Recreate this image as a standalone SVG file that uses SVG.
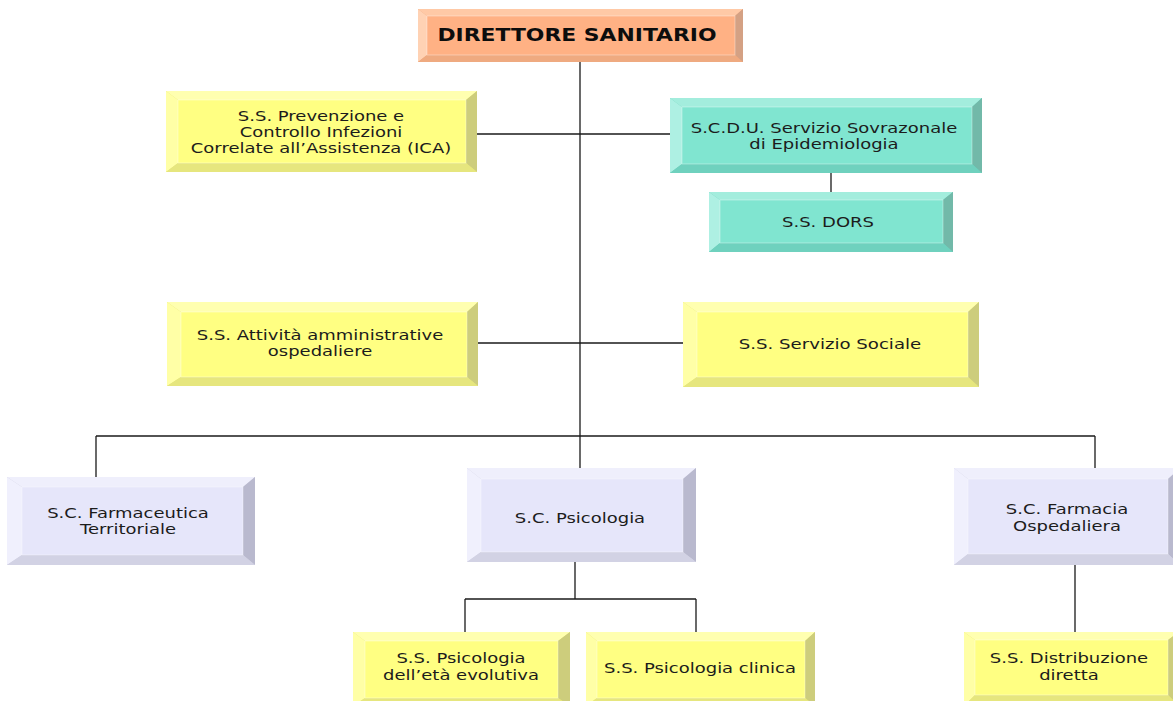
<svg xmlns="http://www.w3.org/2000/svg" width="1173" height="701" viewBox="0 0 1173 701">
<style>
.bg{fill:#ffffff}
.conn line{stroke:#1a1a1a;stroke-width:1.3}
.yel .o{fill:#E3E37A}.yel .t{fill:#FFFFB0}.yel .l{fill:#FFFFA6}.yel .r{fill:#CDCD7C}.yel .b{fill:#E6E67E}.yel .f{fill:#FFFF82}
.sal .o{fill:#E9A37A}.sal .t{fill:#FFC9A6}.sal .l{fill:#FFD2B4}.sal .r{fill:#D4A184}.sal .b{fill:#EFAA80}.sal .f{fill:#FFB184}
.tea .o{fill:#6CCDB9}.tea .t{fill:#A3EDDD}.tea .l{fill:#AEF0E3}.tea .r{fill:#72B9A9}.tea .b{fill:#6FD1BE}.tea .f{fill:#80E5D0}
.lav .o{fill:#D0D0E2}.lav .t{fill:#EFEFFC}.lav .l{fill:#F0F0FD}.lav .r{fill:#B9B9CE}.lav .b{fill:#D2D2E4}.lav .f{fill:#E6E6FA}
.f{stroke:#ffffff;stroke-opacity:0.35;stroke-width:1}
text{font-family:"DejaVu Sans","Liberation Sans",sans-serif;font-size:14.5px;fill:#1c1c1c;text-anchor:middle}
text.bold{font-weight:bold;font-size:17.5px;fill:#0d0d0d}
</style>
<rect class="bg" x="0" y="0" width="1173" height="701"/>

<g id="connectors" class="conn">
<line x1="580" y1="62" x2="580" y2="468"/>
<line x1="477" y1="134" x2="670" y2="134"/>
<line x1="831" y1="173" x2="831" y2="192"/>
<line x1="478" y1="343" x2="683" y2="343"/>
<line x1="96" y1="436" x2="1095" y2="436"/>
<line x1="96" y1="436" x2="96" y2="477"/>
<line x1="1095" y1="436" x2="1095" y2="468"/>
<line x1="575" y1="562" x2="575" y2="599"/>
<line x1="465" y1="599" x2="696" y2="599"/>
<line x1="465" y1="599" x2="465" y2="632"/>
<line x1="696" y1="599" x2="696" y2="632"/>
<line x1="1075" y1="565" x2="1075" y2="632"/>
</g>

<g id="direttore" class="sal">
<rect class="o" x="418" y="9" width="325" height="53"/>
<polygon class="t" points="418,9 743,9 735,16 427,16"/>
<polygon class="l" points="418,9 427,16 427,55 418,62"/>
<polygon class="r" points="743,9 743,62 735,55 735,16"/>
<polygon class="b" points="418,62 743,62 735,55 427,55"/>
<rect class="f" x="427" y="16" width="308" height="39"/>
<g transform="translate(577,41) scale(1.25,1)"><text class="bold" x="0" y="0">DIRETTORE SANITARIO</text></g>
</g>

<g id="ica" class="yel">
<rect class="o" x="166" y="91" width="311" height="81"/>
<polygon class="t" points="166,91 477,91 466,100 178,100"/>
<polygon class="l" points="166,91 178,100 178,163 166,172"/>
<polygon class="r" points="477,91 477,172 466,163 466,100"/>
<polygon class="b" points="166,172 477,172 466,163 178,163"/>
<rect class="f" x="178" y="100" width="288" height="63"/>
<g transform="translate(321,0) scale(1.24,1)">
<text x="0" y="121">S.S. Prevenzione e</text>
<text x="0" y="137">Controllo Infezioni</text>
<text x="0" y="153">Correlate all’Assistenza (ICA)</text>
</g>
</g>

<g id="epidemiologia" class="tea">
<rect class="o" x="670" y="98" width="312" height="75"/>
<polygon class="t" points="670,98 982,98 972,107 682,107"/>
<polygon class="l" points="670,98 682,107 682,164 670,173"/>
<polygon class="r" points="982,98 982,173 972,164 972,107"/>
<polygon class="b" points="670,173 982,173 972,164 682,164"/>
<rect class="f" x="682" y="107" width="290" height="57"/>
<g transform="translate(824,0) scale(1.24,1)">
<text x="0" y="133">S.C.D.U. Servizio Sovrazonale</text>
<text x="0" y="149">di Epidemiologia</text>
</g>
</g>

<g id="dors" class="tea">
<rect class="o" x="709" y="192" width="244" height="60"/>
<polygon class="t" points="709,192 953,192 943,200 720,200"/>
<polygon class="l" points="709,192 720,200 720,243 709,252"/>
<polygon class="r" points="953,192 953,252 943,243 943,200"/>
<polygon class="b" points="709,252 953,252 943,243 720,243"/>
<rect class="f" x="720" y="200" width="223" height="43"/>
<g transform="translate(828,227) scale(1.24,1)"><text x="0" y="0">S.S. DORS</text></g>
</g>

<g id="attivita" class="yel">
<rect class="o" x="167" y="302" width="311" height="84"/>
<polygon class="t" points="167,302 478,302 467,312 181,312"/>
<polygon class="l" points="167,302 181,312 181,377 167,386"/>
<polygon class="r" points="478,302 478,386 467,377 467,312"/>
<polygon class="b" points="167,386 478,386 467,377 181,377"/>
<rect class="f" x="181" y="312" width="286" height="65"/>
<g transform="translate(320,0) scale(1.24,1)">
<text x="0" y="340">S.S. Attività amministrative</text>
<text x="0" y="356">ospedaliere</text>
</g>
</g>

<g id="sociale" class="yel">
<rect class="o" x="683" y="302" width="296" height="85"/>
<polygon class="t" points="683,302 979,302 968,312 697,312"/>
<polygon class="l" points="683,302 697,312 697,377 683,387"/>
<polygon class="r" points="979,302 979,387 968,377 968,312"/>
<polygon class="b" points="683,387 979,387 968,377 697,377"/>
<rect class="f" x="697" y="312" width="271" height="65"/>
<g transform="translate(830,349) scale(1.25,1)"><text x="0" y="0">S.S. Servizio Sociale</text></g>
</g>

<g id="farmaceutica" class="lav">
<rect class="o" x="7" y="477" width="248" height="88"/>
<polygon class="t" points="7,477 255,477 243,487 22,487"/>
<polygon class="l" points="7,477 22,487 22,555 7,565"/>
<polygon class="r" points="255,477 255,565 243,555 243,487"/>
<polygon class="b" points="7,565 255,565 243,555 22,555"/>
<rect class="f" x="22" y="487" width="221" height="68"/>
<g transform="translate(128,0) scale(1.24,1)">
<text x="0" y="518">S.C. Farmaceutica</text>
<text x="0" y="534">Territoriale</text>
</g>
</g>

<g id="psicologia" class="lav">
<rect class="o" x="467" y="468" width="229" height="94"/>
<polygon class="t" points="467,468 696,468 683,479 481,479"/>
<polygon class="l" points="467,468 481,479 481,552 467,562"/>
<polygon class="r" points="696,468 696,562 683,552 683,479"/>
<polygon class="b" points="467,562 696,562 683,552 481,552"/>
<rect class="f" x="481" y="479" width="202" height="73"/>
<g transform="translate(580,523) scale(1.24,1)"><text x="0" y="0">S.C. Psicologia</text></g>
</g>

<g id="farmacia" class="lav">
<rect class="o" x="954" y="468" width="226" height="97"/>
<polygon class="t" points="954,468 1180,468 1168,479 968,479"/>
<polygon class="l" points="954,468 968,479 968,554 954,565"/>
<polygon class="r" points="1180,468 1180,565 1168,554 1168,479"/>
<polygon class="b" points="954,565 1180,565 1168,554 968,554"/>
<rect class="f" x="968" y="479" width="200" height="75"/>
<g transform="translate(1067,0) scale(1.24,1)">
<text x="0" y="514">S.C. Farmacia</text>
<text x="0" y="531">Ospedaliera</text>
</g>
</g>

<g id="evolutiva" class="yel">
<rect class="o" x="353" y="632" width="217" height="74"/>
<polygon class="t" points="353,632 570,632 558,641 365,641"/>
<polygon class="l" points="353,632 365,641 365,698 353,706"/>
<polygon class="r" points="570,632 570,706 558,698 558,641"/>
<polygon class="b" points="353,706 570,706 558,698 365,698"/>
<rect class="f" x="365" y="641" width="193" height="57"/>
<g transform="translate(461,0) scale(1.24,1)">
<text x="0" y="663">S.S. Psicologia</text>
<text x="0" y="680">dell’età evolutiva</text>
</g>
</g>

<g id="clinica" class="yel">
<rect class="o" x="586" y="632" width="229" height="74"/>
<polygon class="t" points="586,632 815,632 805,641 597,641"/>
<polygon class="l" points="586,632 597,641 597,698 586,706"/>
<polygon class="r" points="815,632 815,706 805,698 805,641"/>
<polygon class="b" points="586,706 815,706 805,698 597,698"/>
<rect class="f" x="597" y="641" width="208" height="57"/>
<g transform="translate(700,673) scale(1.24,1)"><text x="0" y="0">S.S. Psicologia clinica</text></g>
</g>

<g id="distribuzione" class="yel">
<rect class="o" x="964" y="632" width="215" height="74"/>
<polygon class="t" points="964,632 1179,632 1168,640 975,640"/>
<polygon class="l" points="964,632 975,640 975,695 964,706"/>
<polygon class="r" points="1179,632 1179,706 1168,695 1168,640"/>
<polygon class="b" points="964,706 1179,706 1168,695 975,695"/>
<rect class="f" x="975" y="640" width="193" height="55"/>
<g transform="translate(1069,0) scale(1.24,1)">
<text x="0" y="663">S.S. Distribuzione</text>
<text x="0" y="680">diretta</text>
</g>
</g>
</svg>
